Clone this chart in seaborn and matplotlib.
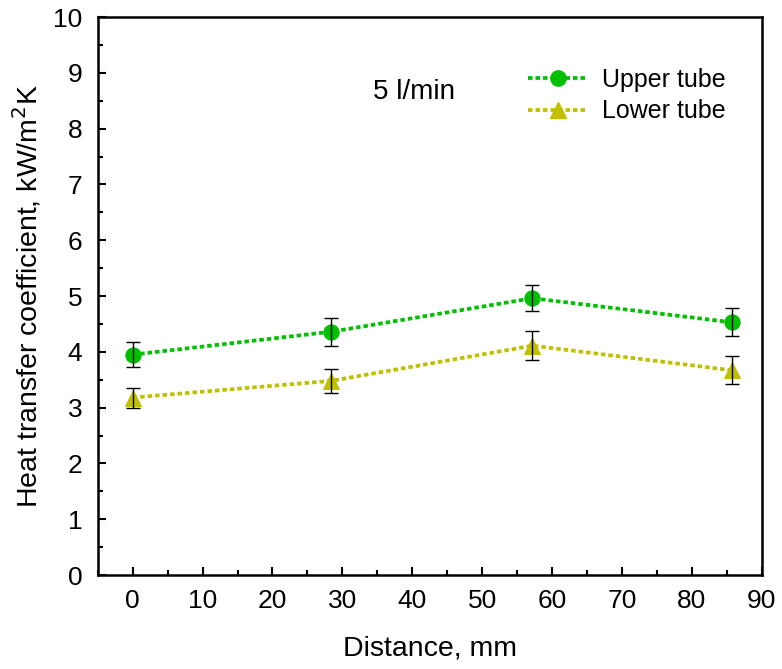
import matplotlib
matplotlib.use("Agg")
import matplotlib.pyplot as plt
import seaborn as sns
import pandas as pd
from matplotlib.ticker import MultipleLocator
from matplotlib.lines import Line2D

distance = [0, 28.4, 57.2, 85.7]
upper = [3.95, 4.36, 4.96, 4.53]
upper_err = [0.22, 0.25, 0.23, 0.25]
lower = [3.18, 3.48, 4.11, 3.67]
lower_err = [0.18, 0.22, 0.26, 0.25]
series_names = ["Upper tube", "Lower tube"]
colors = ["#00C000", "#C0C000"]
markers = ["o", "^"]

sns.set_style("ticks")
plt.rcParams['font.family'] = ['Liberation Sans', 'DejaVu Sans']
plt.rcParams['text.color'] = 'black'
plt.rcParams['axes.labelcolor'] = 'black'
plt.rcParams['xtick.color'] = 'black'
plt.rcParams['ytick.color'] = 'black'

df = pd.DataFrame({
    "Distance": distance * 2,
    "h": upper + lower,
    "err": upper_err + lower_err,
    "Series": [series_names[0]] * 4 + [series_names[1]] * 4,
})

fig = plt.figure(figsize=(7.82, 6.69), dpi=100)
ax = fig.add_axes([0.125, 0.1405, 0.849, 0.834])

DASH = (1.2, 0.8)
LW = 2.7
for name, col, mk in zip(series_names, colors, markers):
    sub = df[df["Series"] == name]
    ax.errorbar(sub["Distance"], sub["h"], yerr=sub["err"], fmt='none',
                ecolor='black', elinewidth=1.0, capsize=5, capthick=1.0, zorder=4)
    sns.lineplot(data=sub, x="Distance", y="h", ax=ax, color=col, marker=mk,
                 markersize=11, markeredgecolor=col, linewidth=LW,
                 dashes=False, label=name, zorder=3, legend=False)
    ax.lines[-1].set_dashes(DASH)

ax.set_xlim(-5, 90)
ax.set_ylim(0, 10)
ax.xaxis.set_major_locator(MultipleLocator(10))
ax.xaxis.set_minor_locator(MultipleLocator(5))
ax.yaxis.set_major_locator(MultipleLocator(1))
ax.yaxis.set_minor_locator(MultipleLocator(0.5))
ax.tick_params(which='both', direction='in', top=False, right=False, width=1.5,
               colors='black')
ax.tick_params(which='major', length=6, labelsize=19)
ax.tick_params(axis='x', which='major', pad=10)
ax.tick_params(axis='y', which='major', pad=11)
ax.tick_params(which='minor', length=3.5)
for s in ax.spines.values():
    s.set_linewidth(1.8)
    s.set_color('black')

ax.set_xlabel("Distance, mm", fontsize=20.5, labelpad=16)
ax.set_ylabel("Heat transfer coefficient, kW/m$^2$K", fontsize=20.5, labelpad=7)
ax.text(40.3, 8.65, "5 l/min", fontsize=20, ha='center', va='center')

handles = []
for name, col, mk in zip(series_names, colors, markers):
    h = Line2D([], [], color=col, marker=mk, markersize=11, linewidth=LW)
    h.set_dashes(DASH)
    handles.append(h)
ax.legend(handles, series_names, loc='upper right', bbox_to_anchor=(0.968, 0.936),
          frameon=False, fontsize=18, handlelength=2.4, handletextpad=0.55,
          labelspacing=0.3, borderaxespad=0.2)

fig.savefig("out.png", dpi=100)
